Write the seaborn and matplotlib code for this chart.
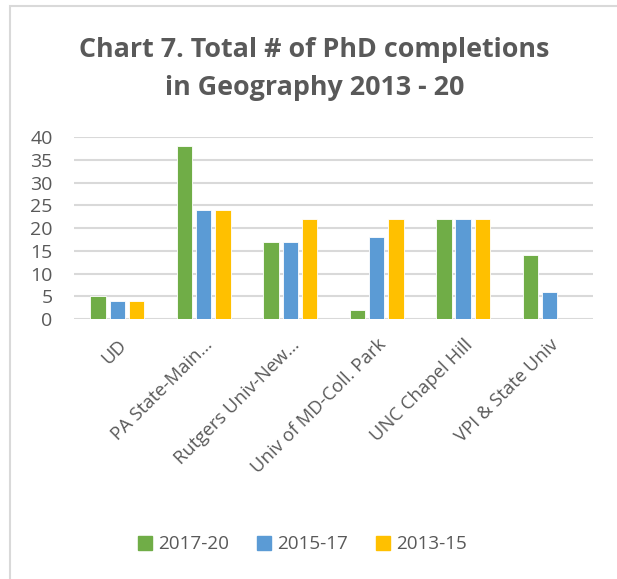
import matplotlib
matplotlib.use("Agg")
import matplotlib.pyplot as plt
import matplotlib.patches as mpatches
import pandas as pd
import seaborn as sns

universities = [
    "UD",
    "PA State-Main\u2026",
    "Rutgers Univ-New\u2026",
    "Univ of MD-Coll. Park",
    "UNC Chapel Hill",
    "VPI & State Univ",
]
periods = ["2017-20", "2015-17", "2013-15"]
completions_2017_20 = [5, 38, 17, 2, 22, 14]
completions_2015_17 = [4, 24, 17, 18, 22, 6]
completions_2013_15 = [4, 24, 22, 22, 22, 0]
y_ticks = [0, 5, 10, 15, 20, 25, 30, 35, 40]

colors = ["#70AD47", "#5B9BD5", "#FFC000"]
text_color = "#595959"
grid_color = "#D9D9D9"

rows = []
for period, values in zip(periods, [completions_2017_20, completions_2015_17, completions_2013_15]):
    for uni, v in zip(universities, values):
        rows.append({"university": uni, "period": period, "count": v})
df = pd.DataFrame(rows)

sns.set_theme(style="white")
plt.rcParams["font.family"] = ["Open Sans", "DejaVu Sans"]

fig = plt.figure(figsize=(6.17, 5.79), dpi=100)
ax = fig.add_axes([0.12, 0.449, 0.841, 0.314])

sns.barplot(
    data=df, x="university", y="count", hue="period",
    order=universities, hue_order=periods, palette=colors,
    saturation=1, width=0.67, gap=0.2, edgecolor="white", linewidth=0.6,
    ax=ax, legend=True,
)

ax.set_ylim(0, 40)
ax.set_yticks(y_ticks)
ax.yaxis.grid(True, color=grid_color, linewidth=1.5)
ax.set_axisbelow(True)
for s in ax.spines.values():
    s.set_visible(False)
ax.set_xlabel("")
ax.set_ylabel("")
ax.tick_params(axis="both", length=0, colors=text_color)
ax.tick_params(axis="y", labelsize=14, pad=15.5)
ax.set_xticks(range(len(universities)))
ax.set_xticklabels(universities, rotation=45, ha="right", va="top",
                   rotation_mode="anchor", fontsize=13.3, color=text_color)
ax.tick_params(axis="x", pad=12)

handles = [mpatches.Patch(color=c) for c in colors]
ax.legend(handles, periods, loc="center", bbox_to_anchor=(0.49, 0.06),
          bbox_transform=fig.transFigure, ncol=3, frameon=False,
          fontsize=13.6, labelcolor=text_color, handlelength=0.75,
          handleheight=0.75, handletextpad=0.3, columnspacing=1.5)

fig.text(0.51, 0.88, "Chart 7. Total # of PhD completions\nin Geography 2013 - 20",
         ha="center", va="center", fontsize=19.4, fontweight="bold",
         color=text_color, linespacing=1.6)

border = mpatches.Rectangle((10 / 617, -0.1), 1.2, 1 - 6 / 579 + 0.1,
                            transform=fig.transFigure, fill=False,
                            edgecolor=grid_color, linewidth=1.5)
fig.add_artist(border)

fig.savefig("out.png", dpi=100)
